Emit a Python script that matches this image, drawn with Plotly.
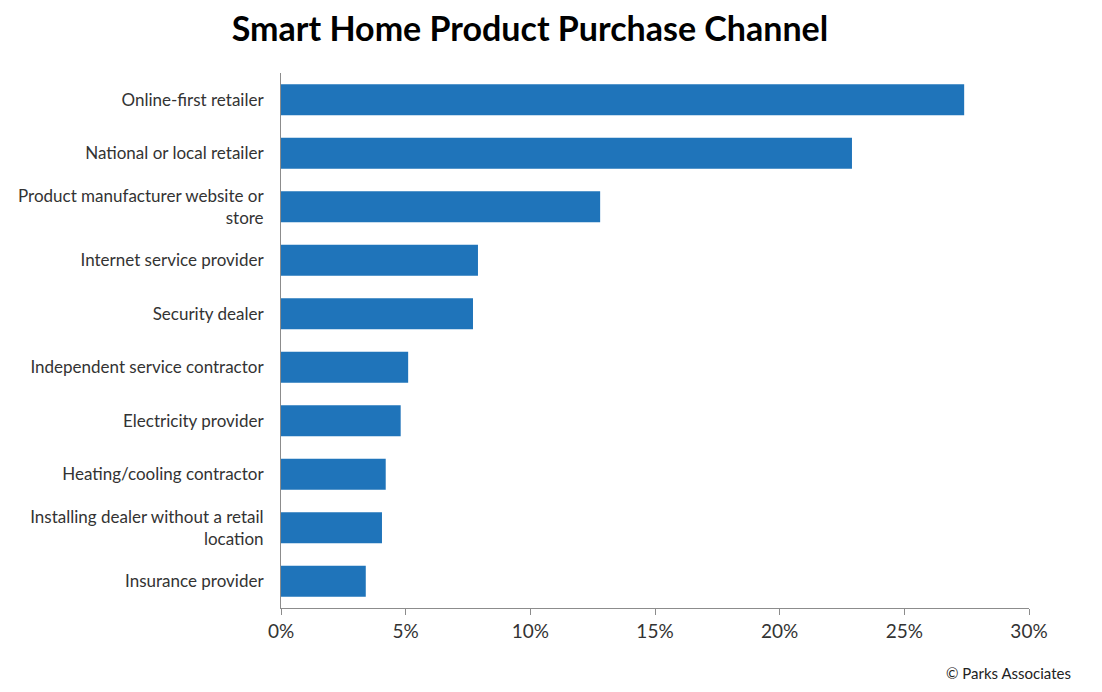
import plotly.graph_objects as go

categories = [
    "Online-first retailer",
    "National or local retailer",
    "Product manufacturer website or<br>store",
    "Internet service provider",
    "Security dealer",
    "Independent service contractor",
    "Electricity provider",
    "Heating/cooling contractor",
    "Installing dealer without a retail<br>location",
    "Insurance provider",
]
values = [27.4, 22.9, 12.8, 7.9, 7.7, 5.1, 4.8, 4.2, 4.05, 3.4]
x_ticks = [0, 5, 10, 15, 20, 25, 30]
x_tick_labels = ["0%", "5%", "10%", "15%", "20%", "25%", "30%"]

FONT = "Lato, 'Open Sans', sans-serif"
OFF = 8  # page body margin
W, H = 1102 - 2 * OFF, 692 - 2 * OFF

fig = go.Figure(go.Bar(
    x=values,
    y=categories,
    orientation="h",
    marker=dict(color="#1f74ba", line=dict(width=0)),
    hoverinfo="x+y",
))

fig.update_layout(
    width=W, height=H,
    margin=dict(l=281 - OFF, r=W - (1029 - OFF), t=73 - OFF, b=H - (608 - OFF), autoexpand=False),
    paper_bgcolor="white", plot_bgcolor="white",
    bargap=0.42,
    showlegend=False,
    font=dict(family=FONT, color="#333333", size=17),
    title=dict(
        text="<b>Smart Home Product Purchase Channel</b>",
        x=(530 - OFF) / W, xanchor="center", xref="container",
        y=1 - (29 - OFF) / H, yanchor="middle", yref="container",
        font=dict(family=FONT, size=34, color="#000000"),
    ),
    xaxis=dict(
        range=[0, 30],
        tickvals=x_ticks, ticktext=x_tick_labels,
        showgrid=False, zeroline=False,
        showline=True, linecolor="#8c8c8c", linewidth=1,
        ticks="outside", ticklen=6, tickcolor="#8c8c8c",
        tickfont=dict(size=19, color="#333333"),
    ),
    yaxis=dict(
        autorange="reversed",
        showgrid=False, zeroline=False,
        showline=True, linecolor="#8c8c8c", linewidth=1,
        ticks="", ticklabelstandoff=13,
        tickfont=dict(size=17, color="#333333"),
    ),
    annotations=[
        dict(
            text="© Parks Associates",
            xref="paper", yref="paper",
            x=(1073 - 281) / 748, xanchor="right",
            y=-(673 - 608) / 535, yanchor="middle",
            showarrow=False,
            font=dict(size=15, color="#222222"),
        )
    ],
)

fig.write_html("out.html")
